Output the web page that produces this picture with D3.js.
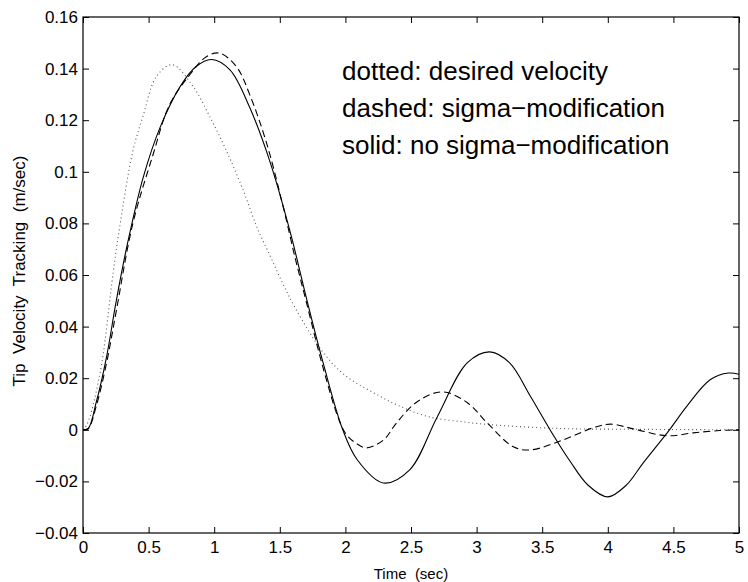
<!DOCTYPE html>
<html>
<head>
<meta charset="utf-8">
<script src="https://cdn.jsdelivr.net/npm/d3@7"></script>
<style>
body{margin:0;background:#fff}
text{font-family:"Liberation Sans",Arial,Helvetica,sans-serif;fill:#000;white-space:pre}
</style>
</head>
<body>
<svg id="chart"></svg>
<script>
var xTicks = [0,0.5,1,1.5,2,2.5,3,3.5,4,4.5,5]
var yTicks = [-0.04,-0.02,0,0.02,0.04,0.06,0.08,0.1,0.12,0.14,0.16]

// dotted: desired velocity
var desiredT = [0,0.03,0.13,0.23,0.28,0.38,0.46,0.56,0.68,0.84,0.97,1.09,1.22,1.33,1.43,1.52,1.62,1.83,2.0,2.21,2.4,2.64,2.91,3.1,3.64,4.2,5]
var desiredV = [0,0.002,0.022,0.061,0.0787,0.108,0.122,0.137,0.1415,0.133,0.121,0.1085,0.093,0.078,0.067,0.057,0.047,0.030,0.021,0.0145,0.0095,0.005,0.003,0.002,0.0005,0.0002,0]

// dashed: sigma-modification
var sigmaT = [0,0.04,0.1,0.18,0.25,0.38,0.53,0.66,0.82,0.94,1.04,1.17,1.27,1.4,1.52,1.62,1.7,1.83,1.95,2.01,2.09,2.16,2.29,2.39,2.55,2.74,2.93,3.08,3.28,3.41,3.66,3.89,4.02,4.2,4.45,4.65,4.85,5]
var sigmaV = [0,0.0004,0.009,0.026,0.045,0.080,0.106,0.126,0.138,0.1446,0.146,0.1407,0.130,0.111,0.0876,0.066,0.050,0.024,0.004,-0.002,-0.0055,-0.007,-0.004,0.0027,0.011,0.0147,0.0105,0.0027,-0.0066,-0.0078,-0.0039,0.0008,0.0022,0.0003,-0.0023,-0.0012,-0.0003,0]

// solid: no sigma-modification
var noSigmaT = [0,0.04,0.1,0.18,0.25,0.33,0.46,0.59,0.74,0.86,0.98,1.12,1.27,1.42,1.58,1.7,1.83,1.98,2.09,2.29,2.49,2.7,2.93,3.1,3.25,3.41,3.56,3.71,3.85,4.0,4.14,4.27,4.47,4.6,4.78,4.92,5]
var noSigmaV = [0,0.0005,0.0105,0.0284,0.049,0.070,0.098,0.1175,0.133,0.1407,0.1435,0.1395,0.125,0.1047,0.0765,0.0516,0.026,0,-0.0116,-0.0206,-0.0155,0.005,0.026,0.0302,0.026,0.013,0.000,-0.012,-0.0215,-0.026,-0.0215,-0.0128,0,0.009,0.0194,0.022,0.0215]

var legendLabels = ["dotted: desired velocity","dashed: sigma\u2212modification","solid: no sigma\u2212modification"]

var screen = {width:748,height:582}
var margins = {top:17,right:9,bottom:49,left:83}
var width = screen.width - margins.left - margins.right
var height = screen.height - margins.top - margins.bottom

var svg = d3.select("#chart")
    .attr("width",screen.width)
    .attr("height",screen.height)

var g = svg.append("g")
    .attr("transform","translate("+margins.left+","+margins.top+")")

var xScale = d3.scaleLinear().domain([0,5]).range([0,width])
var yScale = d3.scaleLinear().domain([-0.04,0.16]).range([height,0])

var fmt = function(d){ return d3.format("")(+d.toFixed(2)) }

var xAxis = g.append("g")
    .attr("transform","translate(0,"+height+")")
    .call(d3.axisBottom(xScale).tickValues(xTicks).tickFormat(fmt).tickSize(-6).tickSizeOuter(0).tickPadding(8))
var xTop = g.append("g")
    .call(d3.axisTop(xScale).tickValues(xTicks).tickFormat("").tickSize(-6).tickSizeOuter(0))
var yAxis = g.append("g")
    .call(d3.axisLeft(yScale).tickValues(yTicks).tickFormat(fmt).tickSize(-6).tickSizeOuter(0).tickPadding(5))
var yRight = g.append("g")
    .attr("transform","translate("+width+",0)")
    .call(d3.axisRight(yScale).tickValues(yTicks).tickFormat("").tickSize(-6).tickSizeOuter(0))

g.selectAll(".domain").remove()
g.selectAll(".tick line").attr("stroke","#000")
g.selectAll(".tick text").style("font-size","17px").attr("fill","#000")

g.append("rect")
    .attr("width",width)
    .attr("height",height)
    .attr("fill","none")
    .attr("stroke","#000")
    .attr("stroke-width",1.2)

var line = d3.line()
    .x(function(d){ return xScale(d[0]) })
    .y(function(d){ return yScale(d[1]) })
    .curve(d3.curveCatmullRom.alpha(0.5))

var series = [
    {t:desiredT, v:desiredV, dash:"1,3", color:"#555"},
    {t:sigmaT, v:sigmaV, dash:"7,4", color:"#000"},
    {t:noSigmaT, v:noSigmaV, dash:null, color:"#000"}
]

series.forEach(function(s){
    g.append("path")
        .datum(d3.zip(s.t,s.v))
        .attr("d",line)
        .attr("fill","none")
        .attr("stroke",s.color)
        .attr("stroke-width",1.1)
        .attr("stroke-dasharray",s.dash)
})

svg.selectAll(".legend")
    .data(legendLabels)
    .enter()
    .append("text")
    .attr("class","legend")
    .attr("x",342)
    .attr("y",function(d,i){ return 80 + i*37 })
    .style("font-size","26px")
    .text(function(d){ return d })

svg.append("text")
    .attr("x",margins.left + width/2)
    .attr("y",579)
    .attr("text-anchor","middle")
    .style("font-size","15px")
    .text("Time  (sec)")

svg.append("text")
    .attr("transform","translate(25,271) rotate(-90)")
    .attr("text-anchor","middle")
    .style("font-size","17px")
    .text("Tip  Velocity  Tracking  (m/sec)")
</script>
</body>
</html>
